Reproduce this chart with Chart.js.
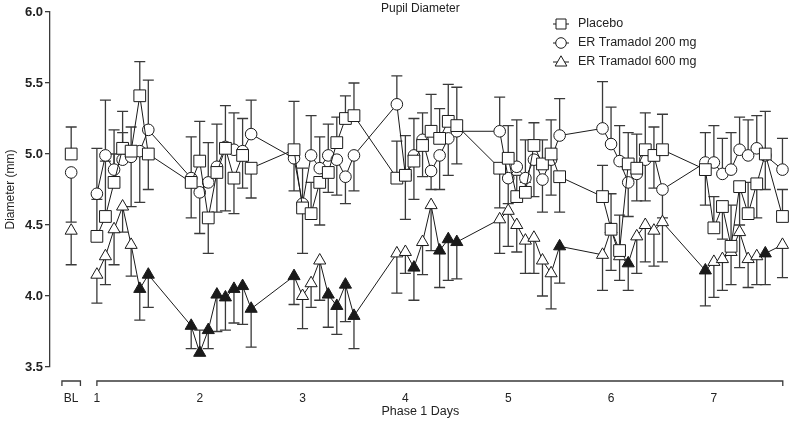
<!DOCTYPE html>
<html lang="en">
<head>
<meta charset="UTF-8">
<title>Pupil Diameter</title>
<script src="https://cdn.jsdelivr.net/npm/chart.js"></script>
<style>
  html, body { margin: 0; padding: 0; background: #fff; }
  #wrap { width: 800px; height: 426px; }
</style>
</head>
<body>
<div id="wrap"><canvas id="pupilChart"></canvas></div>
<script>
// time points in days (first one = baseline "BL")
const days = [0.75,
  1.000, 1.083, 1.167, 1.250, 1.333, 1.417, 1.500,
  1.917, 2.000, 2.083, 2.167, 2.250, 2.333, 2.417, 2.500,
  2.917, 3.000, 3.083, 3.167, 3.250, 3.333, 3.417, 3.500,
  3.917, 4.000, 4.083, 4.167, 4.250, 4.333, 4.417, 4.500,
  4.917, 5.000, 5.083, 5.167, 5.250, 5.333, 5.417, 5.500,
  5.917, 6.000, 6.083, 6.167, 6.250, 6.333, 6.417, 6.500,
  6.917, 7.000, 7.083, 7.167, 7.250, 7.333, 7.417, 7.500, 7.667];

const placebo = [5.00,
  4.42, 4.56, 4.80, 5.04, 5.02, 5.41, 5.00,
  4.80, 4.95, 4.55, 4.87, 5.04, 4.83, 4.99, 4.90,
  5.03, 4.62, 4.58, 4.80, 4.87, 5.08, 5.25, 5.27,
  4.83, 4.85, 4.95, 5.06, 5.16, 5.11, 5.23, 5.20,
  4.90, 4.97, 4.70, 4.73, 5.06, 4.93, 5.00, 4.84,
  4.70, 4.47, 4.32, 4.93, 4.90, 5.03, 4.99, 5.03,
  4.89, 4.48, 4.63, 4.35, 4.77, 4.58, 4.79, 5.00, 4.56];

const er200 = [4.87,
  4.72, 4.99, 4.89, 4.96, 4.98, 5.02, 5.17,
  4.83, 4.73, 4.80, 4.91, 5.05, 5.03, 5.02, 5.14,
  4.97, 4.65, 4.99, 4.90, 4.99, 4.96, 4.84, 4.99,
  5.35, 4.85, 4.99, 5.10, 4.88, 4.99, 5.11, 5.16,
  5.16, 4.83, 4.91, 4.83, 4.96, 4.82, 4.96, 5.13,
  5.18, 5.07, 4.95, 4.80, 4.86, 4.96, 4.99, 4.75,
  4.94, 4.94, 4.86, 4.89, 5.03, 4.99, 5.04, 4.99, 4.89];

const er600 = [4.46,
  4.15, 4.28, 4.47, 4.63, 4.36, 4.05, 4.15,
  3.79, 3.60, 3.76, 4.01, 3.99, 4.05, 4.07, 3.91,
  4.14, 4.00, 4.09, 4.25, 4.01, 3.93, 4.08, 3.86,
  4.30, 4.31, 4.20, 4.38, 4.64, 4.32, 4.40, 4.38,
  4.54, 4.60, 4.50, 4.39, 4.41, 4.25, 4.16, 4.35,
  4.29, 4.47, 4.28, 4.23, 4.42, 4.50, 4.46, 4.52,
  4.18, 4.24, 4.26, 4.31, 4.45, 4.26, 4.28, 4.30, 4.36];

// 1 = filled triangle (600 mg)
const er600Filled = [0,
  0, 0, 0, 0, 0, 1, 1,
  1, 1, 1, 1, 1, 1, 1, 1,
  1, 0, 0, 0, 1, 1, 1, 1,
  0, 0, 1, 0, 0, 1, 1, 1,
  0, 0, 0, 0, 0, 0, 0, 1,
  0, 0, 0, 1, 0, 0, 0, 0,
  1, 0, 0, 0, 0, 0, 0, 1, 0];

// end value of each error bar (bar runs from the mean to this value)
const placeboErr = [5.19,
  4.68, 4.95, 5.00, 5.30, 5.19, 5.65, 4.75,
  4.55, 5.23, 4.30, 4.59, 4.60, 4.58, 4.76, 4.69,
  5.37, 4.90, 4.80, 4.50, 4.73, 5.26, 5.41, 5.50,
  5.09, 5.13, 5.25, 4.84, 5.42, 5.32, 5.49, 5.47,
  4.62, 5.20, 4.85, 4.80, 5.22, 5.10, 5.24, 4.59,
  4.92, 4.72, 4.57, 5.15, 5.14, 5.29, 4.76, 5.28,
  4.64, 4.70, 4.40, 4.64, 4.50, 4.80, 4.55, 5.30, 4.75];

const er200Err = [4.52,
  5.04, 5.38, 5.17, 5.15, 4.63, 4.66, 5.52,
  5.12, 4.44, 5.08, 5.21, 5.34, 5.29, 5.25, 5.38,
  4.74, 4.30, 5.27, 5.12, 5.21, 4.71, 4.65, 4.74,
  5.55, 4.54, 4.68, 5.29, 4.75, 4.75, 4.85, 4.93,
  5.40, 4.65, 5.24, 5.10, 4.70, 4.59, 4.71, 5.39,
  5.51, 5.33, 5.20, 4.56, 4.67, 4.67, 5.19, 4.55,
  5.15, 5.20, 5.11, 5.15, 5.26, 5.24, 5.27, 4.75, 5.11];

const er600Err = [4.22,
  3.95, 4.08, 4.22, 4.45, 4.14, 3.83, 3.92,
  3.63, 3.76, 3.63, 3.75, 3.76, 3.81, 3.80, 3.64,
  3.94, 3.77, 3.92, 3.97, 3.78, 3.73, 3.82, 3.63,
  4.02, 4.16, 3.97, 4.15, 4.32, 4.06, 4.11, 4.12,
  4.30, 4.35, 4.31, 4.16, 4.16, 4.00, 3.91, 4.09,
  4.04, 4.18, 4.11, 4.04, 4.16, 4.24, 4.21, 4.24,
  3.93, 3.99, 4.04, 4.08, 4.20, 4.06, 4.08, 4.08, 4.13];

const xTickValues = [0.75, 1, 2, 3, 4, 5, 6, 7];
const xTickLabels = ['BL', '1', '2', '3', '4', '5', '6', '7'];
const seriesNames = ['Placebo', 'ER Tramadol 200 mg', 'ER Tramadol 600 mg'];

const FONT = "'Liberation Sans', Arial, Helvetica, sans-serif";
const ink = '#1a1a1a';
const barInk = '#3a3a3a';

function points(values) {
    return values.map((v, i) => ({ x: days[i], y: v }));
}

// no line between the baseline point and day 1
const skipBaseline = {
    borderColor: ctx => ctx.p0DataIndex === 0 ? 'rgba(0,0,0,0)' : ink
};

function makeSet(label, values, caps, style, radius, fills) {
    return {
        label: label,
        data: points(values),
        caps: caps,
        borderColor: ink,
        borderWidth: 1,
        pointStyle: style,
        pointRadius: radius,
        pointHoverRadius: radius,
        pointBackgroundColor: fills,
        pointBorderColor: ink,
        pointBorderWidth: 1,
        tension: 0,
        fill: false,
        segment: skipBaseline
    };
}

// error bars with caps, drawn under the lines and markers
const errorBars = {
    id: 'errorBars',
    beforeDatasetsDraw(chart) {
        const ctx = chart.ctx;
        const xs = chart.scales.x, ys = chart.scales.y;
        ctx.save();
        ctx.strokeStyle = barInk;
        ctx.lineWidth = 1.3;
        chart.data.datasets.forEach(ds => {
            ds.data.forEach((p, i) => {
                const px = xs.getPixelForValue(p.x);
                const y0 = ys.getPixelForValue(p.y);
                const y1 = ys.getPixelForValue(ds.caps[i]);
                ctx.beginPath();
                ctx.moveTo(px, y0);
                ctx.lineTo(px, y1);
                ctx.moveTo(px - 5.5, y1);
                ctx.lineTo(px + 5.5, y1);
                ctx.stroke();
            });
        });
        ctx.restore();
    }
};

function drawMarker(ctx, style, x, y, r) {
    ctx.beginPath();
    if (style === 'rect') {
        ctx.rect(x - r, y - r, 2 * r, 2 * r);
    } else if (style === 'circle') {
        ctx.arc(x, y, r, 0, Math.PI * 2);
    } else {
        ctx.moveTo(x, y - r);
        ctx.lineTo(x + r * 0.95, y + r * 0.65);
        ctx.lineTo(x - r * 0.95, y + r * 0.65);
        ctx.closePath();
    }
    ctx.fillStyle = '#fff';
    ctx.fill();
    ctx.stroke();
}

// broken x axis, title and legend
const decorations = {
    id: 'decorations',
    afterDraw(chart) {
        const ctx = chart.ctx;
        const xs = chart.scales.x;
        const area = chart.chartArea;
        const ay = area.bottom + 14;
        ctx.save();
        ctx.strokeStyle = barInk;
        ctx.lineWidth = 1.3;
        [[0.66, 0.84], [1, 7.67]].forEach(seg => {
            const a = xs.getPixelForValue(seg[0]);
            const b = xs.getPixelForValue(seg[1]);
            ctx.beginPath();
            ctx.moveTo(a, ay + 5);
            ctx.lineTo(a, ay);
            ctx.lineTo(b, ay);
            ctx.lineTo(b, ay + 5);
            ctx.stroke();
        });

        ctx.fillStyle = '#222';
        ctx.font = '12px ' + FONT;
        ctx.textAlign = 'center';
        ctx.textBaseline = 'middle';
        ctx.fillText('Pupil Diameter', (area.left + area.right) / 2, 9);

        const styles = ['rect', 'circle', 'triangle'];
        const sizes = [5, 5.3, 6.2];
        const rows = [24, 43, 62];
        ctx.lineWidth = 1;
        ctx.strokeStyle = ink;
        ctx.font = '12.5px ' + FONT;
        ctx.textAlign = 'left';
        seriesNames.forEach((name, i) => {
            const y = rows[i];
            ctx.beginPath();
            ctx.moveTo(553, y);
            ctx.lineTo(569, y);
            ctx.stroke();
            drawMarker(ctx, styles[i], 561, y, sizes[i]);
            ctx.fillStyle = '#222';
            ctx.fillText(name, 578, y);
        });
        ctx.restore();
    }
};

new Chart(document.getElementById('pupilChart'), {
    type: 'line',
    data: {
        datasets: [
            makeSet(seriesNames[0], placebo, placeboErr, 'rect', 8.3, placebo.map(() => '#fff')),
            makeSet(seriesNames[1], er200, er200Err, 'circle', 5.8, er200.map(() => '#fff')),
            makeSet(seriesNames[2], er600, er600Err, 'triangle', 7, er600Filled.map(f => f ? ink : '#fff'))
        ]
    },
    options: {
        responsive: true,
        maintainAspectRatio: false,
        animation: false,
        layout: { padding: { top: 12, right: 3, left: 0, bottom: 0 } },
        plugins: {
            legend: { display: false },
            tooltip: { enabled: false }
        },
        scales: {
            x: {
                type: 'linear',
                min: 0.544,
                max: 7.747,
                afterBuildTicks(scale) {
                    scale.ticks = xTickValues.map(v => ({ value: v }));
                },
                afterFit(scale) { scale.height = 59; },
                grid: { display: false, drawTicks: false, tickLength: 0 },
                border: { display: false },
                ticks: {
                    padding: 24,
                    maxRotation: 0,
                    autoSkip: false,
                    color: '#222',
                    font: { family: FONT, size: 12 },
                    callback: (v, i) => xTickLabels[i]
                },
                title: {
                    display: true,
                    text: 'Phase 1 Days',
                    color: '#222',
                    font: { family: FONT, size: 12.5 },
                    padding: { top: 0, bottom: 7 }
                }
            },
            y: {
                min: 3.5,
                max: 6.0,
                afterFit(scale) { scale.width = 50; },
                ticks: {
                    stepSize: 0.5,
                    padding: 2,
                    color: '#222',
                    font: { family: FONT, size: 13, weight: 'bold' },
                    callback: v => v.toFixed(1)
                },
                grid: { drawOnChartArea: false, drawTicks: true, tickLength: 5, color: barInk, lineWidth: 1.3 },
                border: { display: true, color: barInk, width: 1.3 },
                title: {
                    display: true,
                    text: 'Diameter (mm)',
                    color: '#222',
                    font: { family: FONT, size: 12 },
                    padding: { top: 3, bottom: 0 }
                }
            }
        }
    },
    plugins: [errorBars, decorations]
});
</script>
</body>
</html>
